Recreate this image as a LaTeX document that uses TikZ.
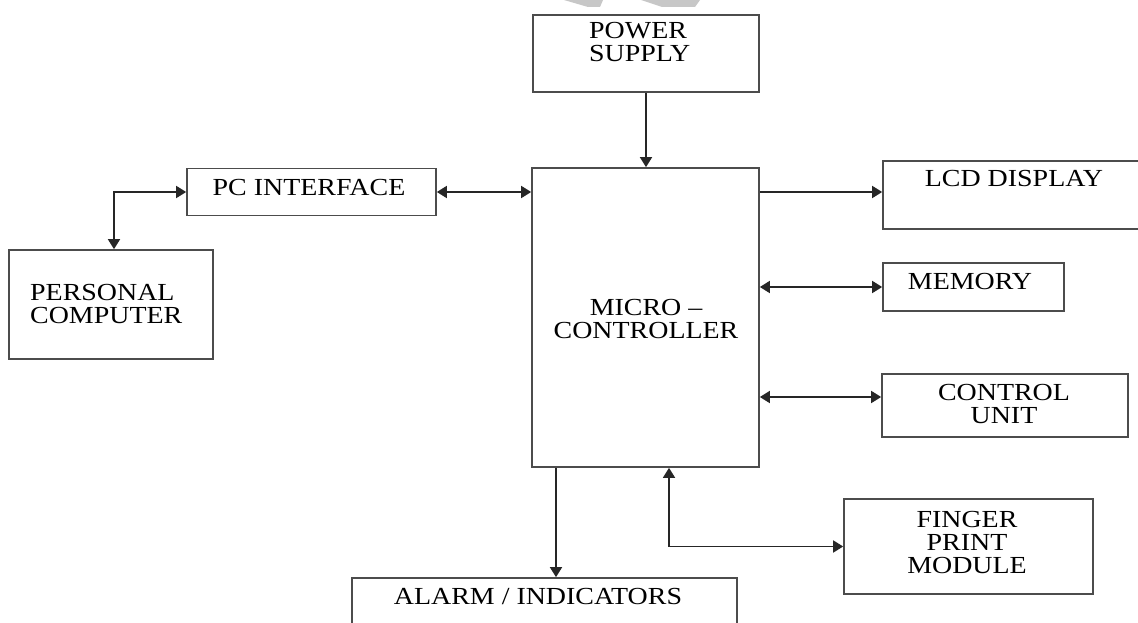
\documentclass[tikz,border=0pt]{standalone}
\usepackage{fontspec}
\setmainfont{Liberation Serif}[FakeStretch=1.14]
\usetikzlibrary{arrows.meta}
\begin{document}
\begin{tikzpicture}[x=1pt,y=-1pt,
 blk/.style={draw=black!70, line width=1.7pt, inner sep=0pt},
 lbl/.style={align=center, font=\fontsize{24.5}{23}\selectfont, text=black, inner sep=0pt},
 con/.style={draw=black!85, line width=1.7pt},
 tip/.style={-{Triangle[length=10pt,width=12pt]}},
 tips/.style={{Triangle[length=10pt,width=12pt]}-{Triangle[length=10pt,width=12pt]}}]
\useasboundingbox (0,0) rectangle (1138,623);
\fill[white] (0,0) rectangle (1138,623);
% watermark fragments
\fill[black!22] (564,0) -- (603,0) -- (600,7) -- (588,7) -- cycle;
\fill[black!22] (641,0) -- (700,0) -- (695,7) -- (662,7) -- cycle;
% boxes
\node[blk, minimum width=226pt, minimum height=77pt] (ps) at (646,53.5) {};
\node[blk, minimum width=249pt, minimum height=47pt] (pci) at (311.5,192) {};
\node[blk, minimum width=204pt, minimum height=109pt] (pc) at (111,304.5) {};
\node[blk, minimum width=227pt, minimum height=299pt] (mc) at (645.5,317.5) {};
\node[blk, minimum width=270pt, minimum height=68pt] (lcd) at (1018,195) {};
\node[blk, minimum width=181pt, minimum height=48pt] (mem) at (973.5,287) {};
\node[blk, minimum width=246pt, minimum height=63pt] (ctl) at (1005,405.5) {};
\node[blk, minimum width=249pt, minimum height=95pt] (fp) at (968.5,546.5) {};
\node[blk, minimum width=385pt, minimum height=70pt] (al) at (544.5,613) {};
% labels
\node[lbl, align=left, anchor=west] (tps) at (589,42) {POWER\\SUPPLY};
\node[lbl] (tpci) at (309,188) {PC INTERFACE};
\node[lbl, align=left, anchor=west] (tpc) at (30,304) {PERSONAL\\COMPUTER};
\node[lbl] (tmc) at (646,319) {MICRO --\\CONTROLLER};
\node[lbl] (tlcd) at (1014,179) {LCD DISPLAY};
\node[lbl] (tmem) at (970,282) {MEMORY};
\node[lbl] (tctl) at (1004,404.5) {CONTROL\\UNIT};
\node[lbl] (tfp) at (967,542.5) {FINGER\\PRINT\\MODULE};
\node[lbl] (tal) at (538,597) {ALARM / INDICATORS};
% connectors
\draw[con,tip] (ps.south) -- (ps.south |- mc.north);
\draw[con,tips] (pci.east) -- (pci.east -| mc.west);
\draw[con,tips] ([xshift=3pt]pc.north) |- (pci.west);
\draw[con,tip] (pci.east -| mc.east) -- (pci.east -| lcd.west);
\draw[con,tips] (mem.west -| mc.east) -- (mem.west);
\coordinate (ctlin) at ([yshift=8.5pt]ctl.west);
\draw[con,tips] (ctlin -| mc.east) -- (ctlin);
\coordinate (alout) at ([xshift=-89.5pt]mc.south);
\draw[con,tip] (alout) -- (alout |- al.north);
\coordinate (fpin) at ([xshift=23.5pt]mc.south);
\draw[con,tips] (fpin) |- (fp.west);
\end{tikzpicture}
\end{document}
